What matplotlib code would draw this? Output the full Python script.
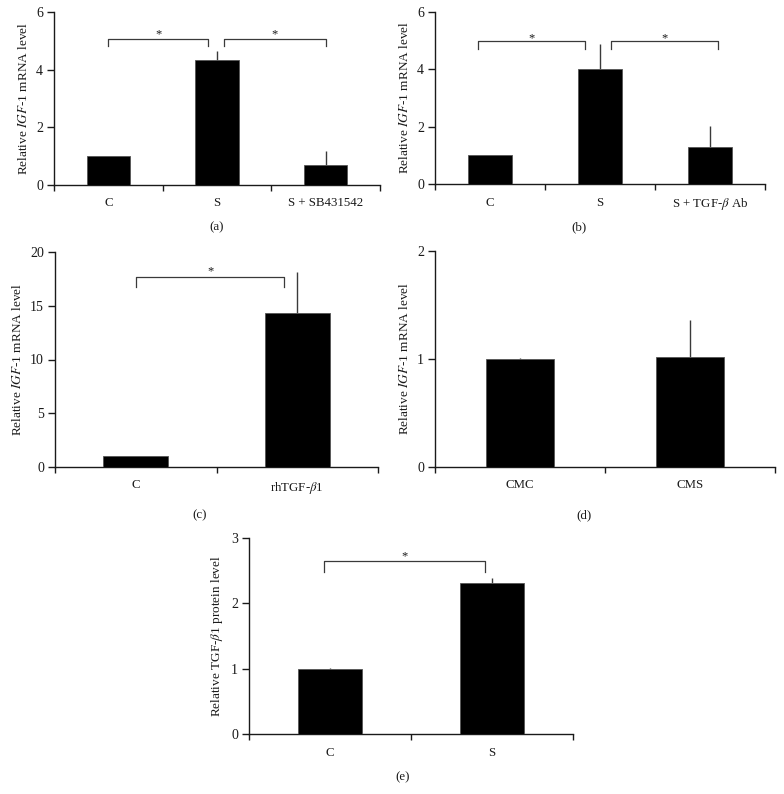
import matplotlib
matplotlib.use("Agg")
import matplotlib.pyplot as plt
import numpy as np

plt.rcParams['font.family'] = ['Liberation Serif', 'DejaVu Serif']
plt.rcParams['mathtext.fontset'] = 'stix'
plt.rcParams['font.size'] = 9

# ---- data ----
a_cats = ['C', 'S', 'S + SB431542']
a_vals = [1.0, 4.33, 0.69]
a_errs = [0.02, 0.32, 0.49]

b_cats = ['C', 'S', r'S + TGF-$\mathit{\beta}$ Ab']
b_vals = [1.0, 4.01, 1.29]
b_errs = [0.02, 0.87, 0.73]

c_cats = ['C', r'rhTGF-$\mathit{\beta}$1']
c_vals = [1.0, 14.3]
c_errs = [0.05, 3.8]

d_cats = ['CMC', 'CMS']
d_vals = [1.0, 1.02]
d_errs = [0.005, 0.34]

e_cats = ['C', 'S']
e_vals = [1.0, 2.31]
e_errs = [0.01, 0.08]

ylab_igf = r'Relative $\mathit{IGF}$-1 mRNA level'
ylab_tgf = r'Relative TGF-$\mathit{\beta}$1 protein level'

W, H = 784, 794
fig = plt.figure(figsize=(W / 100, H / 100), dpi=100)

def ax_px(l, r, b, t):
    return fig.add_axes([l / W, 1 - b / H, (r - l) / W, (b - t) / H])

ink = '#1a1a1a'
lc = '#3a3a3a'

def panel(ax, cats, vals, errs, ymax, yticks, ylabel, brackets):
    n = len(cats)
    x = np.arange(n)
    ax.bar(x, vals, width=0.4, color='black', edgecolor='#555555', linewidth=0.6, zorder=3)
    ax.errorbar(x, vals, yerr=[np.zeros(n), errs], fmt='none', ecolor=lc,
                elinewidth=1.0, capsize=0, zorder=2)
    ax.set_xlim(-0.5, n - 0.5)
    ax.set_ylim(0, ymax)
    ax.spines['top'].set_visible(False)
    ax.spines['right'].set_visible(False)
    for s in ('left', 'bottom'):
        ax.spines[s].set_color(ink)
        ax.spines[s].set_linewidth(1.0)
    ax.set_yticks(yticks)
    ax.set_yticklabels([str(t) for t in yticks], fontsize=10)
    ax.tick_params(axis='y', direction='out', length=5, width=1.0, colors=ink, pad=3)
    ax.set_xticks(np.arange(n + 1) - 0.5)
    ax.set_xticklabels([''] * (n + 1))
    ax.tick_params(axis='x', which='major', direction='out', length=4, width=1.0, colors=ink)
    ax.set_xticks(x, minor=True)
    ax.set_xticklabels(cats, minor=True, fontsize=9.3)
    ax.tick_params(axis='x', which='minor', length=0, pad=9, colors=ink)
    ax.set_ylabel(ylabel, color=ink, labelpad=4, fontsize=9.5)
    for (x1, x2, ytop, ybot, ystar) in brackets:
        ax.plot([x1, x1, x2, x2], [ybot, ytop, ytop, ybot], color=lc, lw=0.9,
                clip_on=False, zorder=4)
        ax.text((x1 + x2) / 2, ystar, '*', ha='center', va='center', fontsize=9, color=ink)

ax_a = ax_px(54, 380, 185, 12)
panel(ax_a, a_cats, a_vals, a_errs, 6, [0, 2, 4, 6], ylab_igf,
      [(0.0, 0.92, 5.06, 4.82, 5.22), (1.06, 2.0, 5.06, 4.82, 5.22)])

ax_b = ax_px(435, 765, 184, 12)
panel(ax_b, b_cats, b_vals, b_errs, 6, [0, 2, 4, 6], ylab_igf,
      [(-0.11, 0.86, 4.99, 4.71, 5.08), (1.1, 2.07, 4.99, 4.71, 5.08)])

ax_c = ax_px(55, 378, 467, 252)
panel(ax_c, c_cats, c_vals, c_errs, 20, [0, 5, 10, 15, 20], ylab_igf,
      [(0.0, 0.92, 17.7, 16.7, 18.2)])

ax_d = ax_px(435, 775, 467, 251)
panel(ax_d, d_cats, d_vals, d_errs, 2, [0, 1, 2], ylab_igf, [])

ax_e = ax_px(249, 573, 734, 538)
panel(ax_e, e_cats, e_vals, e_errs, 3, [0, 1, 2, 3], ylab_tgf,
      [(-0.04, 0.957, 2.65, 2.48, 2.72)])

for lab, xp, yp in [('(a)', 217, 227), ('(b)', 579, 227), ('(c)', 200, 515),
                    ('(d)', 584, 515), ('(e)', 403, 777)]:
    fig.text(xp / W, 1 - yp / H, lab, ha='center', va='center', fontsize=9.3, color=ink)

fig.savefig('out.png', dpi=100)
